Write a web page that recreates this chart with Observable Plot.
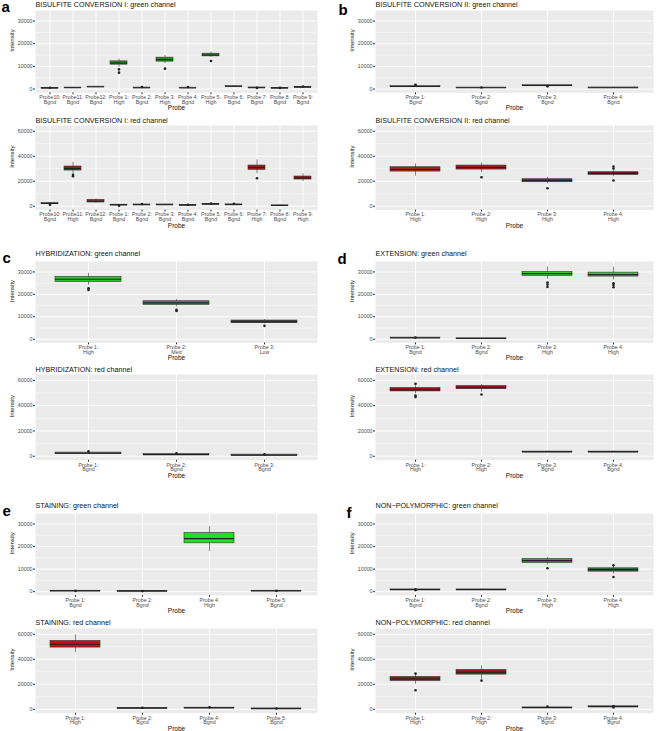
<!DOCTYPE html>
<html><head><meta charset="utf-8">
<script src="https://cdn.jsdelivr.net/npm/d3@7"></script>
<script src="https://cdn.jsdelivr.net/npm/@observablehq/plot@0.6"></script>
<style>
body{margin:0;background:#fff;}
#root{position:relative;width:657px;height:731px;overflow:hidden;font-family:"Liberation Sans",Arial,sans-serif;}
#root svg{position:absolute;overflow:visible;}
</style></head><body><div id="root"></div>
<script>
// ---------- DATA (box stats: [lower whisker, Q1, median, Q3, upper whisker]) ----------
const aGreenLabels = ["Probe10:\nBgnd","Probe11:\nBgnd","Probe12:\nBgnd","Probe 1:\nHigh","Probe 2:\nBgnd","Probe 3:\nHigh","Probe 4:\nBgnd","Probe 5:\nHigh","Probe 6:\nBgnd","Probe 7:\nBgnd","Probe 8:\nBgnd","Probe 9:\nBgnd"];
const aGreenStats = [[150,300,400,550,700],[450,550,600,650,750],[850,950,1000,1050,1150],[9700,10760,11470,12220,13240],[300,450,550,650,800],[11200,12090,12970,13850,14870],[300,450,500,600,750],[13850,14430,15000,15600,16320],[1050,1150,1200,1250,1350],[350,500,600,700,850],[200,300,400,500,650],[600,750,800,900,1050]];
const aGreenOutliers = [[0,600],[3,8700],[3,7230],[4,900],[5,9000],[6,900],[7,12350],[9,500],[10,500],[11,1100]];
const aGreenFill = ["#777","#777","#777","#2b8a2b","#777","#2b8a2b","#777","#2b8a2b","#777","#777","#777","#777"];

const aRedLabels = ["Probe10:\nBgnd","Probe11:\nHigh","Probe12:\nBgnd","Probe 1:\nBgnd","Probe 2:\nBgnd","Probe 3:\nBgnd","Probe 4:\nBgnd","Probe 5:\nBgnd","Probe 6:\nBgnd","Probe 7:\nHigh","Probe 8:\nBgnd","Probe 9:\nHigh"];
const aRedStats = [[1300,1700,2200,2700,3100],[25900,28560,30160,31760,35200],[2400,3000,4000,5100,5900],[500,800,1000,1200,1500],[800,1000,1200,1400,1700],[800,1000,1200,1400,1600],[300,600,800,1000,1300],[1100,1400,1600,1800,2200],[900,1100,1300,1500,1800],[25900,29100,30960,32560,37100],[300,500,600,700,900],[19760,21360,22700,23760,25900]];
const aRedOutliers = [[0,1100],[1,25100],[1,24000],[3,400],[4,1700],[6,1200],[7,2100],[8,1900],[9,22400]];
const aRedFill = ["#777","#a31616","#8b3a2a","#777","#777","#777","#777","#777","#777","#a31616","#777","#a31616"];

const bGreenLabels = ["Probe 1:\nBgnd","Probe 2:\nBgnd","Probe 3:\nBgnd","Probe 4:\nBgnd"];
const bGreenStats = [[700,900,1100,1300,1600],[300,450,550,650,800],[1300,1500,1600,1700,1900],[400,550,600,700,800]];
const bGreenOutliers = [[0,1900],[0,1500],[1,700],[2,1200]];
const bGreenFill = ["#777","#777","#777","#777"];

const bRedLabels = ["Probe 1:\nHigh","Probe 2:\nHigh","Probe 3:\nHigh","Probe 4:\nHigh"];
const bRedStats = [[24000,27730,29330,31200,33870],[26940,29330,30940,32540,34670],[17870,19200,20540,21600,23200],[23470,25070,26140,27200,29070]];
const bRedOutliers = [[1,23200],[2,14400],[3,31730],[3,30130],[3,20540]];
const bRedFill = ["#a52020","#a01c1c","#9a2020","#5a1e1e"];

const cGreenLabels = ["Probe 1:\nHigh","Probe 2:\nMed","Probe 3:\nLow"];
const cGreenStats = [[24060,25540,26730,27770,29400],[14550,15300,16190,16930,17670],[6830,7280,7720,8320,8760]];
const cGreenOutliers = [[0,22720],[0,21980],[1,13070],[1,12620],[2,5940]];
const cGreenFill = ["#2ec02e","#2f9a2f","#454a45"];

const cRedLabels = ["Probe 1:\nBgnd","Probe 2:\nBgnd","Probe 3:\nBgnd"];
const cRedStats = [[1300,1900,2400,2900,3400],[700,1000,1300,1800,2100],[200,500,800,1300,1500]];
const cRedOutliers = [[0,3950],[1,2370],[2,1600]];
const cRedFill = ["#777","#777","#777"];

const dGreenLabels = ["Probe 1:\nBgnd","Probe 2:\nBgnd","Probe 3:\nHigh","Probe 4:\nHigh"];
const dGreenStats = [[300,450,600,700,900],[150,250,300,400,500],[26730,28200,29250,30000,32220],[26430,27920,28810,29700,32080]];
const dGreenOutliers = [[0,750],[2,25250],[2,24350],[2,23300],[3,24950],[3,24200],[3,23170]];
const dGreenFill = ["#777","#777","#33cc33","#33cc33"];

const dRedLabels = ["Probe 1:\nHigh","Probe 2:\nHigh","Probe 3:\nBgnd","Probe 4:\nBgnd"];
const dRedStats = [[49300,51240,52570,53900,57350],[50700,53100,54160,55490,56800],[2900,3200,3450,3700,4000],[2900,3200,3450,3700,4000]];
const dRedOutliers = [[0,57350],[0,48050],[0,46730],[1,48850]];
const dRedFill = ["#8b1a1a","#8b1a1a","#777","#777"];

const eGreenLabels = ["Probe 1:\nBgnd","Probe 2:\nBgnd","Probe 4:\nHigh","Probe 5:\nBgnd"];
const eGreenStats = [[100,200,300,400,500],[50,150,200,300,400],[17740,21430,23500,26010,28820],[100,200,300,400,550]];
const eGreenOutliers = [[0,350],[1,250],[3,350]];
const eGreenFill = ["#777","#777","#1fe01f","#777"];

const eRedLabels = ["Probe 1:\nHigh","Probe 2:\nBgnd","Probe 4:\nBgnd","Probe 5:\nBgnd"];
const eRedStats = [[45340,49340,52000,54670,59470],[400,600,800,1000,1200],[600,850,1070,1300,1500],[200,400,530,700,900]];
const eRedOutliers = [[1,1300],[2,1700],[3,600]];
const eRedFill = ["#cc1010","#777","#777","#777"];

const fGreenLabels = ["Probe 1:\nBgnd","Probe 2:\nBgnd","Probe 3:\nHigh","Probe 4:\nHigh"];
const fGreenStats = [[600,750,890,1000,1200],[650,800,890,1000,1100],[11820,12710,13740,14480,15220],[7830,8870,9750,10350,11530]];
const fGreenOutliers = [[0,1000],[0,700],[2,10350],[3,11680],[3,6500]];
const fGreenFill = ["#777","#777","#37a137","#356b35"];

const fRedLabels = ["Probe 1:\nHigh","Probe 2:\nHigh","Probe 3:\nBgnd","Probe 4:\nBgnd"];
const fRedStats = [[20000,22670,24270,25870,27000],[24000,27740,29600,31470,34670],[900,1100,1330,1500,1800],[1500,1800,2130,2400,2700]];
const fRedOutliers = [[0,28540],[0,15200],[1,22940],[2,2130],[3,2670],[3,1500]];
const fRedFill = ["#8f1d1d","#8f1d1d","#777","#777"];

const greenTicks = [0,10000,20000,30000];
const greenMinor = [5000,15000,25000];
const redTicks = [0,20000,40000,60000];
const redMinor = [10000,30000,50000];

// ---------- LAYOUT ----------
const root = document.getElementById("root");
const FONT = "Liberation Sans, Arial, sans-serif";

function panel({labels, stats, outs, fills, title, letter, green, col, frameTop, frameBottom, titleY, letterY, letterX}) {
  const rows = labels.map((p, i) => ({probe: p, lo: stats[i][0], q1: stats[i][1], med: stats[i][2], q3: stats[i][3], hi: stats[i][4], fill: fills[i]}));
  const outliers = outs.map(([i, v]) => ({probe: labels[i], v}));
  const domain = green ? [-1650, 34650] : [-3100, 64600];
  const majors = green ? greenTicks : redTicks;
  const minors = green ? greenMinor : redMinor;
  const mt = 16, mb = 22;
  const left = col === 0 ? 0 : 330;
  const width = col === 0 ? 330 : 327;
  const ml = col === 0 ? 35 : 45, mr = col === 0 ? 13 : 4;
  const height = frameBottom - frameTop + mt + mb;
  const marks = [
    Plot.frame({fill: "#EBEBEB", stroke: null}),
    Plot.gridY(minors, {stroke: "white", strokeOpacity: 1, strokeWidth: 0.45}),
    Plot.gridY(majors, {stroke: "white", strokeOpacity: 1, strokeWidth: 0.9}),
    Plot.gridX({stroke: "white", strokeOpacity: 1, strokeWidth: 0.9}),
    Plot.axisY(majors, {tickFormat: d => String(d), tickSize: 2, tickPadding: 1, fontSize: 5.3, fill: "#4D4D4D", stroke: "#333", label: null}),
    Plot.axisX({tickSize: 2, tickPadding: 1, fontSize: 5.3, lineHeight: 0.9, fill: "#4D4D4D", stroke: "#333", label: null}),
    Plot.ruleX(rows, {x: "probe", y1: "lo", y2: "hi", stroke: "#333", strokeWidth: 0.6}),
    Plot.barY(rows, {x: "probe", y1: "q1", y2: "q3", fill: d => d.fill, stroke: "#333", strokeWidth: 0.6}),
    Plot.tickY(rows, {x: "probe", y: "med", stroke: "#222", strokeWidth: 1.1}),
    Plot.dot(outliers, {x: "probe", y: "v", r: 1.3, fill: "#222", stroke: null}),
    Plot.text([title], {text: d => d, frameAnchor: "top-left", dy: titleY - frameTop, textAnchor: "start", lineAnchor: "middle", fontSize: 7.2, fill: "#111"}),
    Plot.text(["Intensity"], {text: d => d, frameAnchor: "left", dx: -23, rotate: -90, lineAnchor: "middle", fontSize: 6, fill: "#111"}),
    Plot.text(["Probe"], {text: d => d, frameAnchor: "bottom", dy: 15.5, lineAnchor: "middle", fontSize: 6.5, fill: "#111"})
  ];
  if (letter) marks.push(Plot.text([letter], {text: d => d, frameAnchor: "top-left", dx: letterX - (left + ml), dy: letterY - frameTop, textAnchor: "start", lineAnchor: "middle", fontSize: 15, fontWeight: "bold", fill: "black"}));
  const svg = Plot.plot({
    width, height, marginTop: mt, marginBottom: mb, marginLeft: ml, marginRight: mr,
    style: {fontFamily: FONT, background: "transparent", overflow: "visible"},
    x: {type: "band", domain: labels, paddingInner: 0.25, paddingOuter: 0.225},
    y: {domain},
    color: {type: "identity"},
    marks
  });
  svg.style.left = left + "px";
  svg.style.top = (frameTop - mt) + "px";
  root.appendChild(svg);
}

const rowsLayout = [
  {g: [10.4, 92.7], r: [125, 209.6], gt: 4.5, rt: 120},
  {g: [260.6, 342], r: [373.5, 459.2], gt: 253, rt: 369},
  {g: [512.8, 594.7], r: [627.5, 712.2], gt: 505, rt: 622}
];

const specs = [
  {row: 0, col: 0, letter: "a", lx: 1, ly: 7.5, name: "BISULFITE CONVERSION I", G: [aGreenLabels, aGreenStats, aGreenOutliers, aGreenFill], R: [aRedLabels, aRedStats, aRedOutliers, aRedFill]},
  {row: 0, col: 1, letter: "b", lx: 338, ly: 10, name: "BISULFITE CONVERSION II", G: [bGreenLabels, bGreenStats, bGreenOutliers, bGreenFill], R: [bRedLabels, bRedStats, bRedOutliers, bRedFill]},
  {row: 1, col: 0, letter: "c", lx: 2, ly: 257.5, name: "HYBRIDIZATION", G: [cGreenLabels, cGreenStats, cGreenOutliers, cGreenFill], R: [cRedLabels, cRedStats, cRedOutliers, cRedFill]},
  {row: 1, col: 1, letter: "d", lx: 337, ly: 258.5, name: "EXTENSION", G: [dGreenLabels, dGreenStats, dGreenOutliers, dGreenFill], R: [dRedLabels, dRedStats, dRedOutliers, dRedFill]},
  {row: 2, col: 0, letter: "e", lx: 2, ly: 510.5, name: "STAINING", G: [eGreenLabels, eGreenStats, eGreenOutliers, eGreenFill], R: [eRedLabels, eRedStats, eRedOutliers, eRedFill]},
  {row: 2, col: 1, letter: "f", lx: 346, ly: 512.5, name: "NON\u2212POLYMORPHIC", G: [fGreenLabels, fGreenStats, fGreenOutliers, fGreenFill], R: [fRedLabels, fRedStats, fRedOutliers, fRedFill]}
];

for (const s of specs) {
  const L = rowsLayout[s.row];
  panel({labels: s.G[0], stats: s.G[1], outs: s.G[2], fills: s.G[3], title: s.name + ": green channel", letter: s.letter, green: true, col: s.col, frameTop: L.g[0], frameBottom: L.g[1], titleY: L.gt, letterY: s.ly, letterX: s.lx});
  panel({labels: s.R[0], stats: s.R[1], outs: s.R[2], fills: s.R[3], title: s.name + ": red channel", letter: null, green: false, col: s.col, frameTop: L.r[0], frameBottom: L.r[1], titleY: L.rt});
}
</script></body></html>
